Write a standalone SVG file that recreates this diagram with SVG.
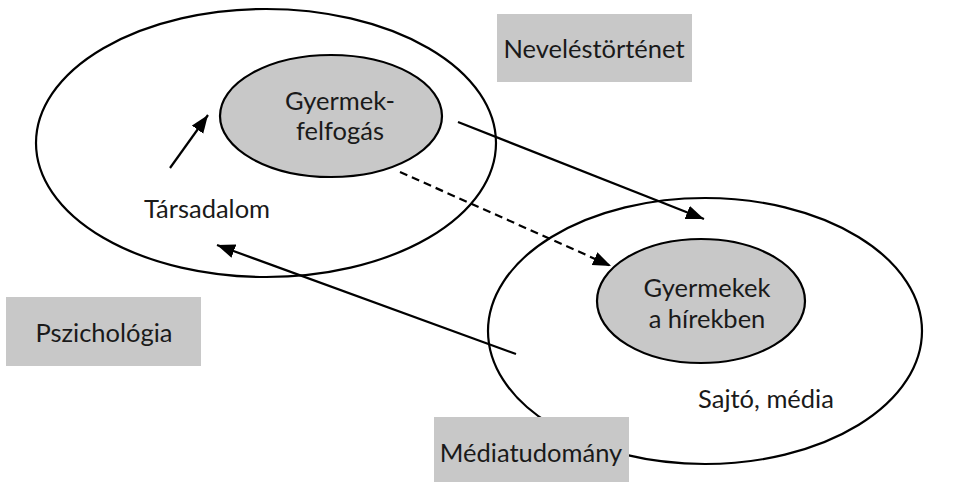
<svg xmlns="http://www.w3.org/2000/svg" width="954" height="482" viewBox="0 0 954 482">
<defs>
<style>
.outer{fill:none;stroke:#000;stroke-width:2.2}
.inner{fill:#c8c8c8;stroke:#000;stroke-width:2.2}
.box{fill:#c8c8c8;stroke:none}
.t{font-family:Lato,"Open Sans",sans-serif;font-size:25.5px;fill:#1a1a1a;text-anchor:middle}
.c{fill:none;stroke:#000;stroke-width:2.2}
.d{stroke-dasharray:8 5}
</style>
<marker id="ah" markerUnits="userSpaceOnUse" markerWidth="19" markerHeight="15" refX="18" refY="7.5" orient="auto">
<path d="M0,0.5 L18,7.5 L0,14.5 z" fill="#000"/>
</marker>
</defs>
<g id="tarsadalom">
<ellipse class="outer" cx="266" cy="143" rx="230" ry="134"/>
<text class="t" x="207" y="218">Társadalom</text>
</g>
<g id="sajto">
<ellipse class="outer" cx="705" cy="331" rx="217" ry="133"/>
<text class="t" x="766" y="408">Sajtó, média</text>
</g>
<g id="felfogas">
<ellipse class="inner" cx="331" cy="116" rx="111" ry="61"/>
<text class="t" x="340" y="110">Gyermek-</text>
<text class="t" x="340" y="140">felfogás</text>
</g>
<g id="hirekben">
<ellipse class="inner" cx="701" cy="301" rx="104" ry="62"/>
<text class="t" x="707" y="297">Gyermekek</text>
<text class="t" x="707" y="328">a hírekben</text>
</g>
<g id="connectors">
<line class="c" x1="170" y1="168" x2="208" y2="115" marker-end="url(#ah)"/>
<line class="c" x1="458" y1="122" x2="704" y2="219" marker-end="url(#ah)"/>
<line class="c d" x1="400" y1="172" x2="611" y2="266" marker-end="url(#ah)"/>
<line class="c" x1="516" y1="354" x2="217" y2="245" marker-end="url(#ah)"/>
</g>
<g id="neveles">
<rect class="box" x="497" y="14" width="195" height="68"/>
<text class="t" x="594" y="58">Neveléstörténet</text>
</g>
<g id="pszichologia">
<rect class="box" x="6" y="297" width="195" height="69"/>
<text class="t" x="104" y="342">Pszichológia</text>
</g>
<g id="mediatudomany">
<rect class="box" x="434" y="417" width="195" height="65"/>
<text class="t" x="531" y="462">Médiatudomány</text>
</g>
</svg>
